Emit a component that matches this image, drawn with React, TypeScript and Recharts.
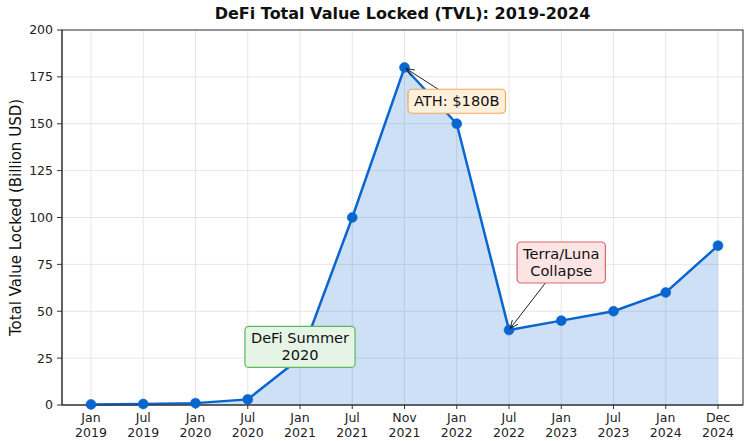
import React from 'react';
import * as R from 'recharts';
import { AreaChart, Area, XAxis, YAxis, CartesianGrid, ReferenceLine } from 'recharts';

const periods = ['Jan 2019', 'Jul 2019', 'Jan 2020', 'Jul 2020', 'Jan 2021', 'Jul 2021', 'Nov 2021', 'Jan 2022', 'Jul 2022', 'Jan 2023', 'Jul 2023', 'Jan 2024', 'Dec 2024'];
const tvlValues = [0.3, 0.5, 1, 3, 25, 100, 180, 150, 40, 45, 50, 60, 85];
const yTicks = [0, 25, 50, 75, 100, 125, 150, 175, 200];

const annotationTexts = [['ATH: $180B'], ['Terra/Luna', 'Collapse'], ['DeFi Summer', '2020']];
const annotationTextAt = [
  { x: 'Jan 2022', y: 162 },
  { x: 'Jan 2023', y: 76 },
  { x: 'Jan 2021', y: 31 },
];
const annotationTargets = [
  { x: 'Nov 2021', y: 180 },
  { x: 'Jul 2022', y: 40 },
  null,
];
const annotationColors = [
  { fill: '#fff0dc', stroke: '#f2a65a' },
  { fill: '#fde4e4', stroke: '#d9676b' },
  { fill: '#e6f4e6', stroke: '#5cb85c' },
];

const data = periods.map((p, i) => ({ period: p, tvl: tvlValues[i] }));

const FONT = '"DejaVu Sans", Verdana, sans-serif';
const ANN_FONT_SIZE = 14.6;

let measureCtx: CanvasRenderingContext2D | null = null;
function measure(text: string): number {
  if (typeof document !== 'undefined') {
    if (!measureCtx) {
      const c = document.createElement('canvas');
      measureCtx = c.getContext('2d');
    }
    if (measureCtx) {
      measureCtx.font = `${ANN_FONT_SIZE}px "DejaVu Sans"`;
      return measureCtx.measureText(text).width;
    }
  }
  return text.length * ANN_FONT_SIZE * 0.6;
}

function makeAnnotationShape(idx: number, hasArrow: boolean) {
  return (props: any) => {
    const { x1, y1, x2, y2 } = props;
    const lines = annotationTexts[idx];
    const colors = annotationColors[idx];
    const lineH = 17;
    const padX = 6;
    const padY = 3.5;
    const w = Math.max(...lines.map(measure)) + padX * 2;
    const h = lines.length * lineH + padY * 2;
    let arrow: React.ReactNode = null;
    if (hasArrow) {
      const dx = x2 - x1;
      const dy = y2 - y1;
      const len = Math.sqrt(dx * dx + dy * dy);
      const ux = dx / len;
      const uy = dy / len;
      const tx = x2 - ux * 2;
      const ty = y2 - uy * 2;
      const hl = 8;
      const hw = 3.5;
      const bx = tx - ux * hl;
      const by = ty - uy * hl;
      const px = -uy;
      const py = ux;
      arrow = (
        <g>
          <line x1={x1} y1={y1} x2={tx} y2={ty} stroke="#222" strokeWidth={1} />
          <path
            d={`M${bx + px * hw},${by + py * hw} L${tx},${ty} L${bx - px * hw},${by - py * hw}`}
            fill="none"
            stroke="#222"
            strokeWidth={1}
          />
        </g>
      );
    }
    return (
      <g>
        {arrow}
        <rect
          x={x1 - w / 2}
          y={y1 - h / 2}
          width={w}
          height={h}
          rx={4}
          ry={4}
          fill={colors.fill}
          stroke={colors.stroke}
          strokeWidth={1.2}
        />
        {lines.map((t, i) => (
          <text
            key={i}
            x={x1}
            y={y1 - h / 2 + padY + lineH * i + lineH * 0.78}
            textAnchor="middle"
            fontFamily={FONT}
            fontSize={ANN_FONT_SIZE}
            fill="#111"
          >
            {t}
          </text>
        ))}
      </g>
    );
  };
}

const XTick = (props: any) => {
  const { x, y, payload } = props;
  const parts = String(payload.value).split(' ');
  return (
    <g>
      <text x={x} y={y + 11} textAnchor="middle" fontFamily={FONT} fontSize={12.5} fill="#222">
        {parts[0]}
      </text>
      <text x={x} y={y + 26} textAnchor="middle" fontFamily={FONT} fontSize={12.5} fill="#222">
        {parts[1]}
      </text>
    </g>
  );
};

const usePlotAreaSafe: () => any = (R as any).usePlotArea || (() => null);

const Frame = () => {
  const pa = usePlotAreaSafe();
  if (!pa) return null;
  return <rect x={pa.x} y={pa.y} width={pa.width} height={pa.height} fill="none" stroke="#333" strokeWidth={1} />;
};

const Dot = (props: any) => {
  const { cx, cy, index } = props;
  if (cx == null || cy == null) return <g key={`d${index}`} />;
  return <circle key={`d${index}`} cx={cx} cy={cy} r={5} fill="#0a66cf" stroke="#0a66cf" strokeWidth={0.5} />;
};

export default function App() {
  return (
    <div style={{ position: 'absolute', left: 0, top: 0, width: 744, height: 441, background: '#fff' }}>
      <div
        style={{
          position: 'absolute',
          left: 62,
          width: 681,
          top: 4,
          textAlign: 'center',
          fontFamily: FONT,
          fontWeight: 'bold',
          fontSize: 16,
          lineHeight: '20px',
          color: '#111',
        }}
      >
        DeFi Total Value Locked (TVL): 2019-2024
      </div>
      <AreaChart width={744} height={441} data={data} margin={{ top: 30, right: 1, bottom: 0, left: 0 }}>
        <CartesianGrid stroke="#e6e6e6" strokeWidth={1} />
        <XAxis
          dataKey="period"
          type="category"
          scale="point"
          padding={{ left: 29, right: 25 }}
          height={36}
          tick={<XTick />}
          tickSize={4}
          tickMargin={2}
          tickLine={{ stroke: '#333' }}
          axisLine={{ stroke: '#333' }}
          interval={0}
        />
        <YAxis
          type="number"
          domain={[0, 200]}
          ticks={yTicks}
          width={62}
          tickSize={5}
          tickMargin={4}
          tick={{ fontFamily: FONT, fontSize: 12.5, fill: '#222' }}
          tickLine={{ stroke: '#333' }}
          axisLine={{ stroke: '#333' }}
          label={{
            content: (p: any) => {
              const vb = p.viewBox;
              const cx = vb.x + 16;
              const cy = vb.y + vb.height / 2;
              return (
                <text
                  x={cx}
                  y={cy}
                  transform={`rotate(-90, ${cx}, ${cy})`}
                  textAnchor="middle"
                  dominantBaseline="central"
                  fontFamily={FONT}
                  fontSize={15}
                  fill="#111"
                >
                  Total Value Locked (Billion USD)
                </text>
              );
            },
          }}
        />
        <Area
          type="linear"
          dataKey="tvl"
          stroke="#0a66cf"
          strokeWidth={2.5}
          fill="#0a66cf"
          fillOpacity={0.2}
          dot={Dot}
          activeDot={false}
          isAnimationActive={false}
        />
        <Frame />
        {annotationTexts.map((_, i) => {
          const from = annotationTextAt[i];
          const to = annotationTargets[i] || annotationTextAt[i];
          const extra: any = { zIndex: 3000 };
          return (
            <ReferenceLine
              key={i}
              segment={[from, to]}
              ifOverflow="visible"
              {...extra}
              shape={makeAnnotationShape(i, annotationTargets[i] !== null)}
            />
          );
        })}
      </AreaChart>
    </div>
  );
}
